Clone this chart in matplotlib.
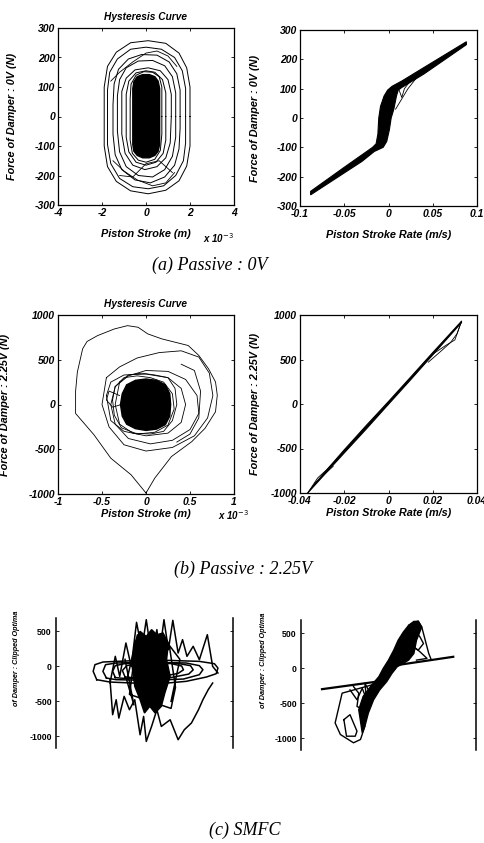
import matplotlib
matplotlib.use("Agg")
import matplotlib.pyplot as plt
from matplotlib.patches import Polygon

W, H = 485, 843
fig = plt.figure(figsize=(W / 100, H / 100), dpi=100)
fig.patch.set_facecolor("white")

SANS = "Liberation Sans"
SERIF = "Liberation Serif"

# ---------------- data : panel (a) left, stroke (x1e-3 m) vs force (N)
a_loops = [
    ([2.0, 2.0, 1.85, 1.5, 0.9, 0.1, -0.7, -1.35, -1.75, -1.9, -1.9, -1.9, -1.75, -1.35, -0.7, 0.1, 0.9, 1.5, 1.85, 2.0, 2.0],
     [0, 100, 165, 215, 248, 257, 250, 218, 170, 100, 0, -100, -170, -220, -252, -262, -250, -218, -168, -100, 0]),
    ([1.8, 1.8, 1.65, 1.3, 0.7, 0.0, -0.7, -1.3, -1.65, -1.75, -1.75, -1.75, -1.6, -1.2, -0.6, 0.1, 0.8, 1.35, 1.7, 1.8, 1.8],
     [0, 95, 155, 200, 228, 235, 228, 195, 150, 90, 0, -95, -160, -210, -238, -245, -235, -200, -150, -90, 0]),
    ([1.55, 1.55, 1.4, 1.05, 0.5, -0.2, -0.8, -1.25, -1.45, -1.5, -1.5, -1.4, -1.1, -0.5, 0.2, 0.85, 1.3, 1.5, 1.55, 1.55],
     [0, 90, 145, 185, 208, 210, 195, 160, 110, 40, -60, -130, -180, -215, -225, -205, -165, -110, -40, 0]),
    ([1.35, 1.35, 1.2, 0.85, 0.3, -0.35, -0.9, -1.2, -1.3, -1.3, -1.2, -0.9, -0.35, 0.3, 0.85, 1.2, 1.35, 1.35],
     [0, 80, 135, 172, 190, 188, 165, 125, 70, -50, -120, -170, -200, -205, -180, -135, -70, 0]),
    ([1.15, 1.15, 1.0, 0.65, 0.1, -0.5, -0.9, -1.1, -1.1, -0.95, -0.6, -0.05, 0.5, 0.9, 1.1, 1.15],
     [0, 75, 125, 155, 165, 158, 130, 85, -60, -125, -165, -180, -170, -140, -90, 0]),
    ([0.9, 0.9, 0.75, 0.4, 0.0, -0.45, -0.78, -0.9, -0.9, -0.78, -0.45, 0.0, 0.45, 0.78, 0.9, 0.9],
     [0, 80, 125, 150, 155, 148, 120, 75, -70, -120, -155, -165, -155, -125, -80, 0]),
    ([0.72, 0.72, 0.6, 0.3, -0.1, -0.45, -0.68, -0.72, -0.72, -0.62, -0.35, 0.0, 0.4, 0.65, 0.72, 0.72],
     [0, 100, 135, 150, 152, 140, 110, 60, -80, -125, -148, -155, -145, -115, -60, 0]),
]
a_cross = [
    ([-1.6, -1.2, -0.6, 0.0, 0.5, 1.0, 1.4], [120, 150, 185, 215, 222, 205, 170]),
    ([-1.5, -1.0, -0.4, 0.3, 0.9, 1.3], [-150, -185, -215, -235, -225, -190]),
    ([-1.2, -0.6, 0.0, 0.6, 1.2], [-200, -205, -160, -150, -190]),
]
a_core_x = [0.62, 0.62, 0.55, 0.4, 0.15, -0.15, -0.4, -0.55, -0.6, -0.6, -0.55, -0.4, -0.15, 0.15, 0.4, 0.55, 0.62]
a_core_y = [0, 95, 120, 135, 142, 142, 135, 118, 95, -95, -118, -132, -140, -140, -132, -118, -95]

# ---------------- data : panel (a) right, stroke rate (m/s) vs force (N)
ar_band_x = [-0.088, -0.05, -0.025, -0.018, -0.014, -0.012, -0.011, -0.009, -0.005, -0.001, 0.004, 0.015, 0.04, 0.088,
             0.088, 0.04, 0.015, 0.011, 0.009, 0.006, 0.003, 0.001, -0.002, -0.006, -0.016, -0.03, -0.088]
ar_band_y = [-250, -168, -115, -100, -88, -55, 0, 40, 75, 95, 108, 126, 172, 260,
             250, 150, 104, 95, 75, 30, 0, -40, -80, -100, -114, -148, -262]
ar_thin = [
    ([0.008, 0.014, 0.022, 0.033], [30, 60, 100, 142]),
    ([0.012, 0.015, 0.018, 0.025], [95, 70, 100, 128]),
]

# ---------------- data : panel (b) left
b_loops = [
    ([0.0, -0.17, -0.40, -0.59, -0.8, -0.8, -0.78, -0.72, -0.67, -0.55, -0.36, -0.21, -0.09, 0.02, 0.18, 0.33, 0.48, 0.6, 0.71, 0.79, 0.81, 0.79, 0.67, 0.52, 0.29, 0.10, 0.0],
     [-989, -785, -600, -340, -100, 150, 363, 622, 704, 770, 844, 881, 863, 789, 733, 696, 659, 548, 400, 252, 104, -81, -267, -415, -581, -822, -989]),
    ([-0.45, -0.3, -0.1, 0.15, 0.4, 0.6, 0.72, 0.76, 0.7, 0.55, 0.3, 0.0, -0.25, -0.42, -0.5, -0.45],
     [300, 420, 520, 580, 600, 530, 350, 100, -150, -350, -480, -520, -450, -250, 0, 300]),
    ([-0.35, -0.2, 0.0, 0.25, 0.45, 0.58, 0.6, 0.5, 0.3, 0.05, -0.2, -0.35, -0.4, -0.35],
     [200, 320, 380, 370, 280, 100, -100, -280, -400, -440, -380, -220, 0, 200]),
    ([-0.45, -0.4, -0.25, 0.0, 0.25, 0.4, 0.45, 0.4, 0.25, 0.0, -0.25, -0.4, -0.45],
     [100, 250, 330, 340, 300, 180, 0, -200, -320, -350, -300, -180, 100]),
    ([-0.3, -0.2, -0.05, 0.1, 0.25, 0.33, 0.35, 0.3, 0.2, 0.05, -0.15, -0.3, -0.35, -0.3],
     [250, 330, 350, 330, 300, 180, 0, -180, -300, -330, -320, -220, 0, 250]),
    ([-0.38, -0.35, -0.25, -0.1, 0.05, 0.2, 0.3, 0.32, 0.25, 0.1, -0.1, -0.28, -0.36, -0.38],
     [50, 200, 300, 320, 300, 250, 120, -50, -230, -310, -330, -260, -120, 50]),
    ([-0.3, -0.42, -0.45, -0.38, -0.28], [100, 150, 50, -30, 0]),
    ([0.4, 0.55, 0.62, 0.6, 0.5, 0.35], [450, 380, 150, -150, -330, -420]),
]
b_core_x = [0.28, 0.27, 0.22, 0.12, 0.0, -0.12, -0.22, -0.27, -0.29, -0.27, -0.22, -0.12, 0.0, 0.12, 0.22, 0.27]
b_core_y = [0, 120, 220, 270, 285, 270, 220, 120, 0, -130, -220, -270, -290, -275, -225, -130]

# ---------------- data : panel (b) right
br_band_x = [-0.0365, -0.03, -0.02, -0.01, 0.0, 0.01, 0.02, 0.033, 0.033, 0.02, 0.01, 0.0, -0.01, -0.02, -0.03, -0.0365]
br_band_y = [-1000, -800, -515, -240, 28, 302, 578, 930, 915, 552, 272, -3, -280, -550, -822, -1000]
br_thin = [
    ([0.018, 0.024, 0.028, 0.031, 0.033], [470, 600, 690, 790, 930]),
    ([0.020, 0.026, 0.030, 0.033], [560, 660, 720, 930]),
    ([-0.0365, -0.032, -0.028, -0.024, -0.018], [-1000, -830, -740, -640, -480]),
    ([-0.0365, -0.033, -0.029, -0.025], [-1000, -880, -790, -700]),
]

# ---------------- data : panel (c) left (x in arbitrary units)
c_loops = [
    ([-0.54, -0.58, -0.56, -0.47, -0.13, 0.25, 0.62, 0.79, 0.83, 0.81, 0.70, 0.47, 0.17, -0.13, -0.39, -0.54],
     [-190, -71, 24, 62, 81, 86, 71, 38, -24, -105, -152, -214, -248, -238, -224, -190]),
    ([-0.43, -0.47, -0.44, -0.32, 0.06, 0.47, 0.62, 0.66, 0.62, 0.44, 0.06, -0.32, -0.43],
     [-167, -71, 24, 48, 57, 48, 10, -48, -119, -181, -200, -190, -167]),
    ([-0.33, -0.36, -0.33, -0.22, 0.06, 0.36, 0.52, 0.55, 0.5, 0.3, 0.0, -0.25, -0.33],
     [-160, -70, 10, 40, 50, 45, 10, -50, -110, -160, -175, -170, -160]),
    ([-0.22, -0.25, -0.2, -0.1, 0.1, 0.3, 0.42, 0.44, 0.38, 0.2, 0.0, -0.15, -0.22],
     [-150, -60, 10, 35, 45, 40, 5, -50, -100, -145, -160, -160, -150]),
    ([-0.39, -0.33, -0.28, -0.21, -0.15, -0.09, -0.03, 0.02, 0.08, 0.14, 0.17, 0.22, 0.27, 0.32, 0.38, 0.43, 0.48, 0.55, 0.62, 0.71, 0.77, 0.83],
     [-238, 143, -143, 333, 0, 628, 238, 666, 143, 524, 190, 666, 238, 657, 190, 381, 143, 286, 95, 452, 0, -95]),
    ([-0.39, -0.36, -0.32, -0.29, -0.23, -0.17, -0.11, -0.05, -0.01, 0.02, 0.08, 0.14, 0.19, 0.29, 0.38, 0.45, 0.53, 0.61, 0.66, 0.72, 0.77],
     [-190, -690, -476, -738, -428, -619, -476, -976, -714, -1071, -857, -619, -857, -762, -1047, -904, -809, -619, -476, -333, -238]),
    ([-0.22, -0.12, -0.2, -0.08, -0.17, 0.3, 0.35, 0.28, 0.4, 0.3],
     [100, -550, -200, 450, -400, -600, -300, 300, 100, -500]),
]
c_core_x = [-0.11, -0.05, 0.02, 0.08, 0.14, 0.21, 0.27, 0.25, 0.29, 0.23, 0.19, 0.12, 0.06, 0.0, -0.05, -0.11, -0.14]
c_core_y = [333, 500, 428, 524, 452, 476, 333, 95, -143, -381, -571, -666, -571, -666, -476, -286, 0]

# ---------------- data : panel (c) right (x in arbitrary units)
cr_lines = [
    ([-0.76, -0.13], [-297, -189]),
    ([0.10, 0.74], [47, 165]),
]
cr_loops = [
    ([0.23, 0.30, 0.34, 0.38, 0.42, 0.46, 0.49], [614, 661, 675, 590, 401, 212, 118]),
    ([0.25, 0.30, 0.36, 0.40, 0.34, 0.27, 0.23], [496, 543, 448, 354, 260, 307, 401]),
    ([0.21, 0.29, 0.36, 0.44, 0.32], [212, 307, 236, 142, 118]),
    ([-0.19, -0.53, -0.61, -0.55, -0.40, -0.32, -0.27], [-236, -354, -779, -944, -1062, -1015, -826]),
    ([-0.51, -0.44, -0.36, -0.38, -0.48, -0.51], [-732, -661, -897, -968, -968, -732]),
    ([-0.44, -0.36, -0.30, -0.25, -0.27, -0.19, -0.32, -0.23], [-307, -448, -283, -448, -212, -401, -637, -590]),
    ([-0.40, -0.34, -0.36, -0.29, -0.30, -0.25], [-260, -354, -543, -590, -732, -684]),
]
cr_band_x = [-0.34, -0.29, -0.19, -0.11, -0.06, 0.0, 0.06, 0.11, 0.17, 0.23, 0.29, 0.34,
             0.38, 0.32, 0.29, 0.23, 0.17, 0.10, 0.04, -0.02, -0.10, -0.17, -0.23, -0.27, -0.30]
cr_band_y = [-590, -401, -236, -118, 0, 118, 260, 401, 519, 614, 670, 670,
             590, 401, 212, 118, 71, 24, -71, -189, -307, -448, -637, -826, -920]

a_xticks = [-4, -2, 0, 2, 4]
a_yticks = [-300, -200, -100, 0, 100, 200, 300]
ar_xticks = [-0.1, -0.05, 0, 0.05, 0.1]
ar_xticklabels = ["-0.1", "-0.05", "0", "0.05", "0.1"]
b_xticks = [-1, -0.5, 0, 0.5, 1]
b_yticks = [-1000, -500, 0, 500, 1000]
br_xticks = [-0.04, -0.02, 0, 0.02, 0.04]
br_xticklabels = ["-0.04", "-0.02", "0", "0.02", "0.04"]
c_yticks = [-1000, -500, 0, 500]

# ---------------- helpers
def ax_at(x0, y0, x1, y1):
    return fig.add_axes([x0 / W, 1 - y1 / H, (x1 - x0) / W, (y1 - y0) / H])

tick_font = dict(family=SANS, weight="bold", style="italic", size=7.5)
lab_font = dict(family=SANS, weight="bold", style="italic", size=7.8)

def style(ax, xt, yt, xtl=None, ytl=None):
    ax.set_xticks(xt)
    ax.set_yticks(yt)
    ax.set_xticklabels(xtl if xtl else [f"{v:g}" for v in xt], fontdict=tick_font)
    ax.set_yticklabels(ytl if ytl else [f"{v:g}" for v in yt], fontdict=tick_font)
    ax.tick_params(direction="in", length=2.5, width=0.6, top=True, right=True, pad=2)
    for s in ax.spines.values():
        s.set_linewidth(0.9)

def ftext(px, py, s, **kw):
    fig.text(px / W, 1 - py / H, s, **kw)

# ---------------- (a) left
ax = ax_at(58, 28, 234, 205)
for xs, ys in a_loops:
    ax.plot(xs, ys, color="black", lw=0.7)
for xs, ys in a_cross:
    ax.plot(xs, ys, color="black", lw=0.6)
ax.add_patch(Polygon(list(zip(a_core_x, a_core_y)), closed=True, facecolor="black", edgecolor="black", lw=1))
ax.set_xlim(-4, 4)
ax.set_ylim(-300, 300)
style(ax, a_xticks, a_yticks)
ax.set_title("Hysteresis Curve", fontdict=dict(family=SANS, weight="bold", style="italic", size=7.3), pad=6)
ax.set_xlabel("Piston Stroke (m)", fontdict=lab_font)
ax.xaxis.set_label_coords(0.5, -0.135)
ax.set_ylabel("Force of Damper : 0V (N)", fontdict=lab_font)
ax.yaxis.set_label_coords(-0.233, 0.5)
ftext(218, 238, r"x 10$^{-3}$", ha="center", va="center", family=SANS, weight="bold", style="italic", size=7)

# ---------------- (a) right
ax = ax_at(300, 30, 477, 206)
ax.add_patch(Polygon(list(zip(ar_band_x, ar_band_y)), closed=True, facecolor="black", edgecolor="black", lw=0.8))
for xs, ys in ar_thin:
    ax.plot(xs, ys, color="black", lw=0.6)
ax.set_xlim(-0.1, 0.1)
ax.set_ylim(-300, 300)
style(ax, ar_xticks, a_yticks, ar_xticklabels)
ax.set_xlabel("Piston Stroke Rate (m/s)", fontdict=lab_font)
ax.xaxis.set_label_coords(0.5, -0.135)
ax.set_ylabel("Force of Damper : 0V (N)", fontdict=lab_font)
ax.yaxis.set_label_coords(-0.226, 0.5)

# ---------------- (b) left
ax = ax_at(58, 315, 234, 494)
for xs, ys in b_loops:
    ax.plot(xs, ys, color="black", lw=0.6)
ax.add_patch(Polygon(list(zip(b_core_x, b_core_y)), closed=True, facecolor="black", edgecolor="black", lw=1))
ax.set_xlim(-1, 1)
ax.set_ylim(-1000, 1000)
style(ax, b_xticks, b_yticks)
ax.set_title("Hysteresis Curve", fontdict=dict(family=SANS, weight="bold", style="italic", size=7.3), pad=6)
ax.set_xlabel("Piston Stroke (m)", fontdict=lab_font)
ax.xaxis.set_label_coords(0.5, -0.085)
ax.set_ylabel("Force of Damper : 2.25V (N)", fontdict=lab_font)
ax.yaxis.set_label_coords(-0.27, 0.5)
ftext(233, 515, r"x 10$^{-3}$", ha="center", va="center", family=SANS, weight="bold", style="italic", size=7)

# ---------------- (b) right
ax = ax_at(300, 315, 477, 493)
ax.add_patch(Polygon(list(zip(br_band_x, br_band_y)), closed=True, facecolor="black", edgecolor="black", lw=0.8))
for xs, ys in br_thin:
    ax.plot(xs, ys, color="black", lw=0.6)
ax.set_xlim(-0.04, 0.04)
ax.set_ylim(-1000, 1000)
style(ax, br_xticks, b_yticks, br_xticklabels)
ax.set_xlabel("Piston Stroke Rate (m/s)", fontdict=lab_font)
ax.xaxis.set_label_coords(0.5, -0.085)
ax.set_ylabel("Force of Damper : 2.25V (N)", fontdict=lab_font)
ax.yaxis.set_label_coords(-0.226, 0.5)

# ---------------- (c)
c_tick_font = dict(family=SANS, weight="bold", size=6.3)
c_lab_font = dict(family=SANS, weight="bold", style="italic", size=5.2)

def style_c(ax):
    ax.set_xlim(-1, 1)
    ax.set_ylim(-1165, 690)
    ax.set_xticks([])
    ax.set_yticks(c_yticks)
    ax.set_yticklabels([f"{v:g}" for v in c_yticks], fontdict=c_tick_font)
    ax.tick_params(axis="y", direction="in", length=2.5, width=0.6, right=True, pad=3)
    ax.spines["top"].set_visible(False)
    ax.spines["bottom"].set_visible(False)
    ax.spines["left"].set_linewidth(1.1)
    ax.spines["right"].set_linewidth(1.1)

ax = ax_at(56, 618, 233, 748)
for xs, ys in c_loops:
    ax.plot(xs, ys, color="black", lw=1.1)
ax.add_patch(Polygon(list(zip(c_core_x, c_core_y)), closed=True, facecolor="black", edgecolor="black", lw=1))
style_c(ax)
ax.set_ylabel("of Damper : Clipped Optima", fontdict=c_lab_font)
ax.yaxis.set_label_coords((20 - 56) / 177, (748 - 658) / 130)

ax = ax_at(301, 620, 476, 750)
for xs, ys in cr_lines:
    ax.plot(xs, ys, color="black", lw=1.6)
ax.add_patch(Polygon(list(zip(cr_band_x, cr_band_y)), closed=True, facecolor="black", edgecolor="black", lw=1))
for xs, ys in cr_loops:
    ax.plot(xs, ys, color="black", lw=1.0)
style_c(ax)
ax.set_ylabel("of Damper : Clipped Optima", fontdict=c_lab_font)
ax.yaxis.set_label_coords((267 - 301) / 175, (750 - 660) / 130)

# ---------------- captions
cap = dict(ha="center", va="center", family=SERIF, style="italic", size=13)
ftext(210, 265, "(a) Passive : 0V", **cap)
ftext(243, 569, "(b) Passive : 2.25V", **cap)
ftext(245, 830, "(c) SMFC", **cap)

fig.savefig("out.png", dpi=100, facecolor="white")
